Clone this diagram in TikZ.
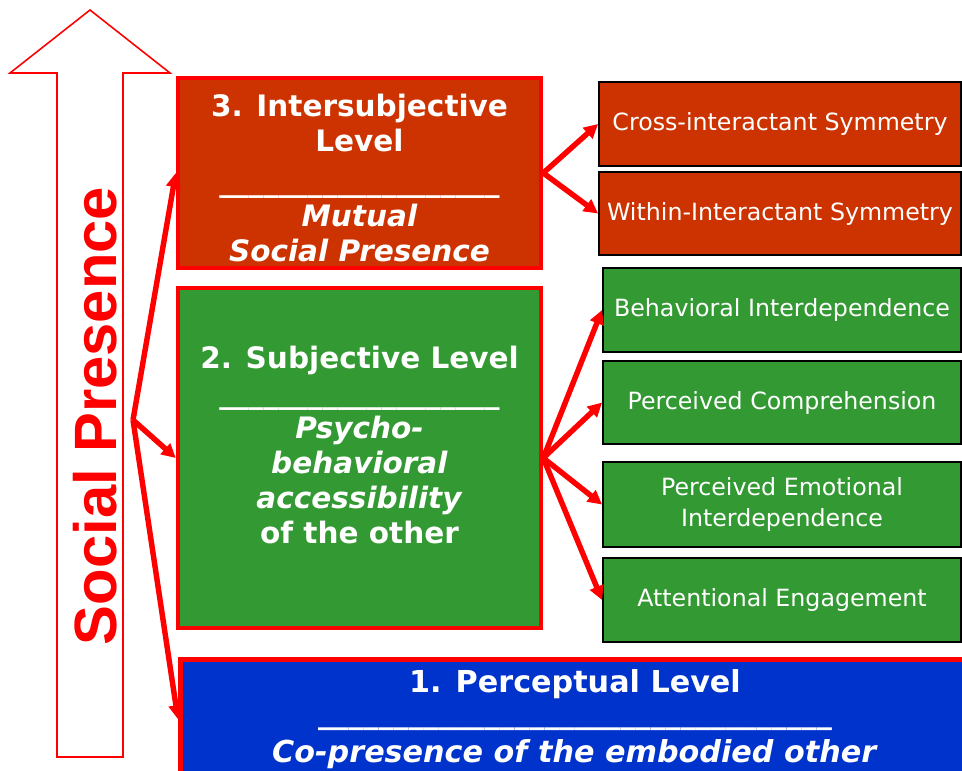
\documentclass[tikz,border=0pt]{standalone}
\usepackage{fontspec}
\setmainfont{DejaVu Sans}
\newfontfamily\spfont{Liberation Sans}
\usetikzlibrary{arrows.meta}
\definecolor{burnt}{HTML}{CC3300}
\definecolor{leafgreen}{HTML}{339933}
\definecolor{royal}{HTML}{0033CC}

\begin{document}
\begin{tikzpicture}[x=0.02cm,y=-0.02cm]
 	\tikzstyle{every node}+=[inner sep=0pt]
 	\tikzstyle{level}=[draw=red, line width=2.6pt]
 	\tikzstyle{leveltext}=[text=white, align=center, font=\fontsize{16.8}{20}\selectfont\bfseries]
 	\tikzstyle{facet}=[draw=black, line width=1.1pt, text=white, align=center, font=\fontsize{13.5}{17.5}\selectfont]
 	\tikzstyle{link}=[red, line width=3.1pt, -{Triangle[length=8pt,width=8pt]}]
 	\useasboundingbox (0,0) rectangle (962,770);
 	\clip (0,0) rectangle (962,770);
 	\draw [red, line width=0.9pt] (90,10) -- (170,73) -- (123,73) -- (123,757) -- (57,757) -- (57,73) -- (10,73) -- cycle;
 	\node (sp) [rotate=90, text=red, font=\spfont\bfseries\fontsize{34}{34}\selectfont] at (95,416) {Social Presence};
 	\node (lvl3) [level, fill=burnt, minimum width=7.26cm, minimum height=3.8cm] at (359.5,173) {};
 	\node (lvl3txt) [leveltext] at (359.5,178) {3. Intersubjective\\Level\\[3pt]\_\_\_\_\_\_\_\_\_\_\_\_\_\_\_\_\_\_\_\\\textit{Mutual}\\\textit{Social Presence}};
 	\node (lvl2) [level, fill=leafgreen, minimum width=7.26cm, minimum height=6.8cm] at (359.5,458) {};
 	\node (lvl2txt) [leveltext] at (359.5,445) {2. Subjective Level\\\_\_\_\_\_\_\_\_\_\_\_\_\_\_\_\_\_\_\_\\\textit{Psycho-}\\\textit{behavioral}\\\textit{accessibility}\\of the other};
 	\node (lvl1) [level, fill=royal, minimum width=16.04cm, minimum height=2.4cm, anchor=north west] at (178,657) {};
 	\node (lvl1txt) [leveltext, font=\fontsize{17.2}{20}\selectfont\bfseries] at (575,719) {1. Perceptual Level\\[-2pt]\_\_\_\_\_\_\_\_\_\_\_\_\_\_\_\_\_\_\_\_\_\_\_\_\_\_\_\_\_\_\_\_\_\_\\[2pt]\textit{Co-presence of the embodied other}};
 	\node (cross) [facet, fill=burnt, minimum width=7.24cm, minimum height=1.68cm] at (780,124) {Cross-interactant Symmetry};
 	\node (within) [facet, fill=burnt, minimum width=7.24cm, minimum height=1.66cm] at (780,213.5) {Within-Interactant Symmetry};
 	\node (behav) [facet, fill=leafgreen, minimum width=7.16cm, minimum height=1.68cm] at (782,310) {Behavioral Interdependence};
 	\node (compr) [facet, fill=leafgreen, minimum width=7.16cm, minimum height=1.66cm] at (782,402.5) {Perceived Comprehension};
 	\node (emot) [facet, fill=leafgreen, minimum width=7.16cm, minimum height=1.7cm] at (782,504.5) {Perceived Emotional\\Interdependence};
 	\node (atten) [facet, fill=leafgreen, minimum width=7.16cm, minimum height=1.68cm] at (782,600) {Attentional Engagement};
 	\coordinate (fork) at (133,420);
 	\draw [link] (fork) -- (lvl3.west);
 	\draw [link] (fork) -- (lvl2.west);
 	\draw [link] (fork) -- (lvl1.west);
 	\draw [link] (lvl3.east) -- (cross.west);
 	\draw [link] (lvl3.east) -- (within.west);
 	\draw [link] (lvl2.east) -- (behav.west);
 	\draw [link] (lvl2.east) -- (compr.west);
 	\draw [link] (lvl2.east) -- (emot.west);
 	\draw [link] (lvl2.east) -- (atten.west);
\end{tikzpicture}
\end{document}
